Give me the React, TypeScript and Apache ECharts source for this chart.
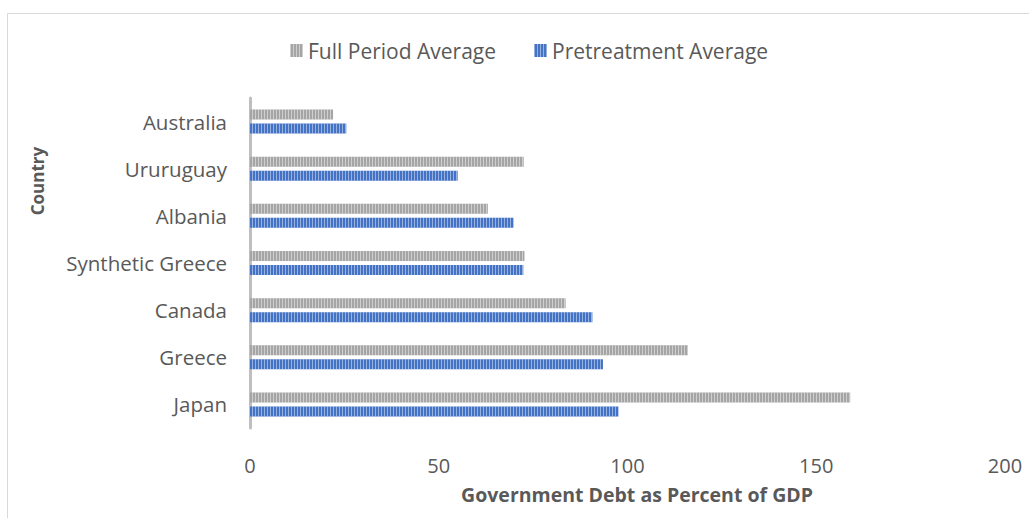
import React, { useEffect, useRef } from "react";
import * as echarts from "echarts";

const countries = ["Australia", "Ururuguay", "Albania", "Synthetic Greece", "Canada", "Greece", "Japan"];
const fullPeriod = [22, 72.5, 63, 72.7, 83.6, 116, 159];
const pretreatment = [25.5, 55, 69.8, 72.4, 90.7, 93.5, 97.6];
const xTicks = { min: 0, max: 200, interval: 50 };

const FONT = "'Open Sans', 'Noto Sans', sans-serif";

export default function App() {
  const ref = useRef<HTMLDivElement>(null);
  useEffect(() => {
    document.body.style.margin = "0";
    const chart = echarts.init(ref.current!, null, { renderer: "svg" });
    const decal = (c: string) => ({
      symbol: "rect",
      symbolSize: 1,
      dashArrayX: [1, 2],
      dashArrayY: [20, 0],
      rotation: 0,
      color: c,
    });
    chart.setOption({
      animation: false,
      backgroundColor: "#ffffff",
      textStyle: { fontFamily: FONT },
      legend: {
        left: 285,
        top: 35,
        itemWidth: 13,
        itemHeight: 13,
        itemGap: 38,
        icon: "rect",
        textStyle: { fontSize: 21, color: "#595959", fontFamily: FONT },
        data: ["Full Period Average", "Pretreatment Average"],
      },
      grid: { left: 250, right: 24, top: 98, bottom: 90 },
      xAxis: {
        type: "value",
        min: xTicks.min,
        max: xTicks.max,
        interval: xTicks.interval,
        axisLine: { show: false },
        axisTick: { show: false },
        splitLine: { show: false },
        axisLabel: { fontSize: 20, color: "#595959", margin: 27, fontFamily: FONT },
      },
      yAxis: {
        type: "category",
        inverse: true,
        data: countries,
        axisLine: { show: true, lineStyle: { color: "#bfbfbf", width: 3 } },
        axisTick: { show: false },
        axisLabel: { fontSize: 20.5, color: "#595959", margin: 23, fontFamily: FONT },
      },
      series: [
        {
          name: "Full Period Average",
          type: "bar",
          data: fullPeriod,
          barWidth: 10,
          barGap: "40%",
          itemStyle: { color: "#a5a5a5", decal: decal("rgba(255,255,255,0.45)") },
        },
        {
          name: "Pretreatment Average",
          type: "bar",
          data: pretreatment,
          barWidth: 10,
          itemStyle: { color: "#4472c4", decal: decal("rgba(255,255,255,0.45)") },
        },
      ],
      graphic: [
        {
          type: "rect",
          shape: { x: 7.5, y: 13.5, width: 1100, height: 600 },
          style: { fill: "none", stroke: "#d9d9d9", lineWidth: 1 },
          silent: true,
        },
        {
          type: "text",
          x: 37,
          y: 181,
          rotation: Math.PI / 2,
          style: {
            text: "Country",
            font: `bold 17px ${FONT}`,
            fill: "#595959",
            align: "center",
            verticalAlign: "middle",
          },
        },
        {
          type: "text",
          x: 637,
          y: 494,
          style: {
            text: "Government Debt as Percent of GDP",
            font: `bold 19.5px ${FONT}`,
            fill: "#595959",
            align: "center",
            verticalAlign: "middle",
          },
        },
      ],
    });
    return () => chart.dispose();
  }, []);
  return (
    <div
      ref={ref}
      style={{ position: "absolute", left: 0, top: 0, width: 1029, height: 518 }}
    />
  );
}
